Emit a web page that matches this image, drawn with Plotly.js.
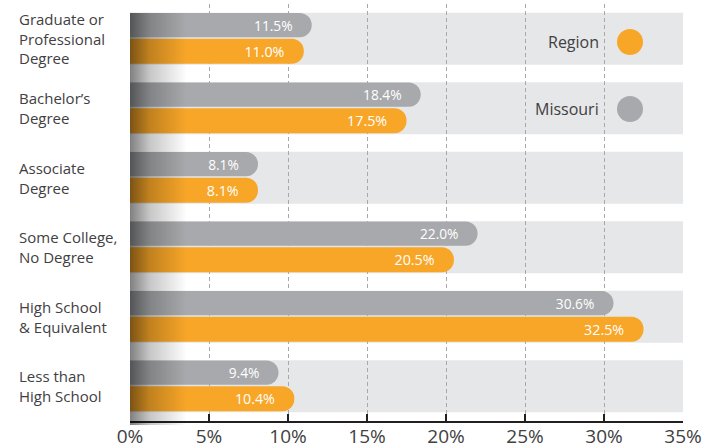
<!DOCTYPE html>
<html>
<head>
<meta charset="utf-8">
<script src="https://cdn.plot.ly/plotly-3.0.1.min.js"></script>
<style>html,body{margin:0;padding:0;background:#fff;}#chart{width:718px;height:448px;}</style>
</head>
<body>
<div id="chart"></div>
<script>
// ---- data ----
const categories = ["Graduate or Professional Degree", "Bachelor's Degree", "Associate Degree", "Some College, No Degree", "High School & Equivalent", "Less than High School"];
const categoryLabels = ["Graduate or<br>Professional<br>Degree", "Bachelor\u2019s<br>Degree", "Associate<br>Degree", "Some College,<br>No Degree", "High School<br>& Equivalent", "Less than<br>High School"];
const missouri = [11.5, 18.4, 8.1, 22.0, 30.6, 9.4];
const region = [11.0, 17.5, 8.1, 20.5, 32.5, 10.4];
const seriesNames = ["Region", "Missouri"];
const tickVals = [0, 5, 10, 15, 20, 25, 30, 35];

// ---- style ----
const ORANGE = '#f8a628';
const GRAY = '#a7a9ac';
const BAND = '#e6e7e8';
const TEXT = '#414042';
const FONT = 'Open Sans, Lato, sans-serif';

const W = 718, H = 448;
const M = {l: 130, r: 35, t: 4, b: 27};
const plotW = W - M.l - M.r, plotH = H - M.t - M.b;
const px2paperX = px => (px - M.l) / plotW;
const px2paperY = py => (H - M.b - py) / plotH;

const PAD = '\u00a0\u00a0';
const traces = [
  {
    type: 'bar', orientation: 'h', name: seriesNames[1],
    y: categories, x: missouri,
    width: 0.35, offset: -0.37,
    marker: {color: GRAY, cornerradius: 12, line: {width: 0}},
    texttemplate: '%{x:.1f}%' + PAD, textposition: 'inside', insidetextanchor: 'end',
    insidetextfont: {color: '#ffffff', size: 15, family: FONT},
    constraintext: 'none',
    hoverinfo: 'skip', showlegend: false
  },
  {
    type: 'bar', orientation: 'h', name: seriesNames[0],
    y: categories, x: region,
    width: 0.36, offset: 0.0,
    marker: {color: ORANGE, cornerradius: 12, line: {width: 0}},
    texttemplate: '%{x:.1f}%' + PAD, textposition: 'inside', insidetextanchor: 'end',
    insidetextfont: {color: '#ffffff', size: 15, family: FONT},
    constraintext: 'none',
    hoverinfo: 'skip', showlegend: false
  }
];

const shapes = categories.map((c, i) => ({
  type: 'rect', xref: 'x', yref: 'y', x0: 0, x1: 35, y0: i - 0.375, y1: i + 0.375,
  fillcolor: BAND, line: {width: 0}, layer: 'below'
}));

// legend circles
const legendItems = [
  {name: seriesNames[0], color: ORANGE, py: 42},
  {name: seriesNames[1], color: GRAY, py: 109}
];
const annotations = [];
legendItems.forEach(it => {
  const r = 13, cx = 630;
  shapes.push({
    type: 'circle', xref: 'paper', yref: 'paper',
    x0: px2paperX(cx - r), x1: px2paperX(cx + r),
    y0: px2paperY(it.py + r), y1: px2paperY(it.py - r),
    fillcolor: it.color, line: {width: 0}, layer: 'above'
  });
  annotations.push({
    xref: 'paper', yref: 'paper', x: px2paperX(601), y: px2paperY(it.py),
    xanchor: 'right', yanchor: 'middle', showarrow: false,
    text: it.name, font: {size: 16, color: TEXT, family: FONT}
  });
});

categoryLabels.forEach((lab, i) => {
  annotations.push({
    xref: 'paper', yref: 'y', x: px2paperX(17), y: categories[i],
    xanchor: 'left', yanchor: 'middle', align: 'left', showarrow: false,
    text: lab, font: {size: 15, color: TEXT, family: FONT}
  });
});

const gradSvg = "<svg xmlns='http://www.w3.org/2000/svg' width='100' height='100' viewBox='0 0 100 100' preserveAspectRatio='none'>" +
  "<defs><linearGradient id='g' x1='0' y1='0' x2='1' y2='0'>" +
  "<stop offset='0' stop-color='black' stop-opacity='0.5'/>" +
  "<stop offset='0.35' stop-color='black' stop-opacity='0.22'/>" +
  "<stop offset='1' stop-color='black' stop-opacity='0'/>" +
  "</linearGradient></defs><rect width='100' height='100' fill='url(%23g)'/></svg>";
const gradSrc = 'data:image/svg+xml;utf8,' + gradSvg.replace(/</g, '%3C').replace(/>/g, '%3E');

const topBand = 1 - 0.125 / categories.length;

const layout = {
  width: W, height: H,
  margin: M,
  paper_bgcolor: '#ffffff', plot_bgcolor: '#ffffff',
  font: {family: FONT, color: TEXT},
  barmode: 'overlay',
  xaxis: {
    range: [0, 35], tickvals: tickVals, ticktext: tickVals.map(v => v + '%'),
    showgrid: true, gridcolor: '#a8a8a8', griddash: '4px,3px', gridwidth: 1,
    showline: true, linecolor: '#231f20', linewidth: 2,
    ticks: 'inside', ticklen: 7, tickwidth: 2, tickcolor: '#231f20',
    tickfont: {size: 19, color: TEXT, family: FONT},
    ticklabelstandoff: -3,
    zeroline: false, fixedrange: true
  },
  yaxis: {
    type: 'category', categoryarray: categories, range: [5.5, -0.5],
    showticklabels: false, showgrid: false, zeroline: false, showline: false, ticks: '',
    fixedrange: true
  },
  shapes: shapes,
  annotations: annotations,
  images: [{
    source: gradSrc, xref: 'x', yref: 'paper',
    x: 0, y: topBand, sizex: 3.6, sizey: topBand + 0.01,
    xanchor: 'left', yanchor: 'top', sizing: 'stretch', layer: 'above', opacity: 1
  }]
};

Plotly.newPlot('chart', traces, layout, {displayModeBar: false, staticPlot: true});
</script>
</body>
</html>
